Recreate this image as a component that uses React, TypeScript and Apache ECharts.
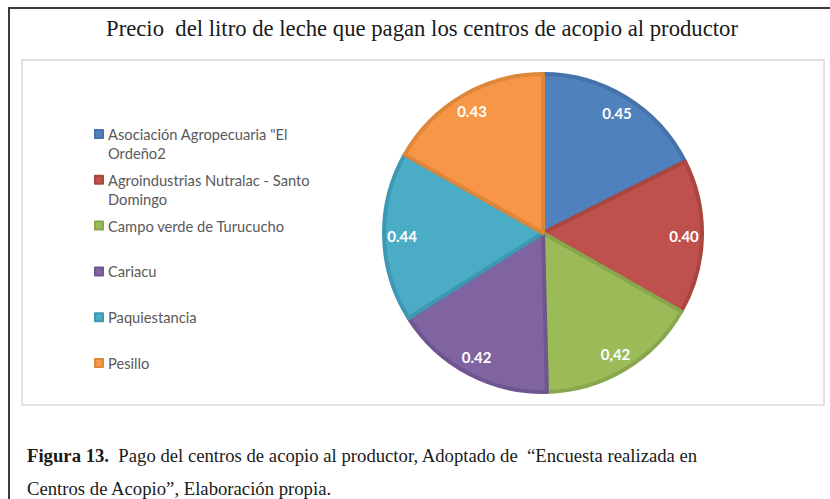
import React, { useEffect, useRef } from "react";
import * as echarts from "echarts";

const categories = [
  'Asociación Agropecuaria "El Ordeño2',
  "Agroindustrias Nutralac - Santo Domingo",
  "Campo verde de Turucucho",
  "Cariacu",
  "Paquiestancia",
  "Pesillo",
];
const legendLabels = [
  'Asociación Agropecuaria "El\nOrdeño2',
  "Agroindustrias Nutralac - Santo\nDomingo",
  "Campo verde de Turucucho",
  "Cariacu",
  "Paquiestancia",
  "Pesillo",
];
const values = [0.45, 0.4, 0.42, 0.42, 0.44, 0.43];
const valueLabels = ["0.45", "0.40", "0,42", "0.42", "0.44", "0.43"];
const fillColors = ["#4F81BD", "#C0504D", "#9BBB59", "#8064A2", "#4BACC6", "#F79646"];
const edgeColors = ["#4572AA", "#A9463F", "#88A64C", "#6F5690", "#3F98B2", "#DE8639"];

const titleText = "Precio  del litro de leche que pagan los centros de acopio al productor";
const captionLine1 = "Pago del centros de acopio al productor, Adoptado de  “Encuesta realizada en";
const captionLine2 = "Centros de Acopio”, Elaboración propia.";

export default function App() {
  const ref = useRef<HTMLDivElement>(null);
  useEffect(() => {
    document.body.style.margin = "0";
    const chart = echarts.init(ref.current!, null, { renderer: "svg" });
    const cx = 543;
    const cy = 233;
    const r = 159;
    const lh = 19;
    const legends = categories.map((name, i) => {
      const lines = legendLabels[i].split("\n").length;
      const text = lines > 1 ? "\n" + legendLabels[i] : legendLabels[i];
      const half = lines > 1 ? lh * 1.5 : lh / 2;
      return {
        data: [name],
        orient: "vertical",
        left: 94,
        top: 134 + i * 45.8 - half,
        padding: 0,
        itemWidth: 8,
        itemHeight: 8,
        icon: "rect",
        selectedMode: false,
        formatter: () => text,
        textStyle: {
          fontFamily: "Lato",
          fontSize: 14.7,
          color: "#595959",
          lineHeight: lh,
        },
      };
    });
    chart.setOption({
      animation: false,
      backgroundColor: "#ffffff",
      title: {
        text: titleText,
        left: 417,
        textAlign: "center",
        top: 11.5,
        textStyle: {
          fontFamily: "Liberation Serif",
          fontWeight: "normal",
          fontSize: 22.7,
          color: "#1a1a1a",
        },
      },
      legend: legends,
      graphic: [
        {
          type: "rect",
          shape: { x: 9, y: 8, width: 900, height: 700 },
          style: { fill: "none", stroke: "#3a3a3a", lineWidth: 2 },
          silent: true,
          z: -10,
        },
        {
          type: "rect",
          shape: { x: 22, y: 60, width: 802, height: 345 },
          style: { fill: "#ffffff", stroke: "#d9d9d9", lineWidth: 1.5 },
          silent: true,
          z: -9,
        },
        {
          type: "text",
          left: 27,
          top: 445.5,
          style: {
            text: "{b|Figura 13.}  " + captionLine1,
            fontFamily: "Liberation Serif",
            fontSize: 18.7,
            fill: "#1a1a1a",
            rich: {
              b: { fontFamily: "Liberation Serif", fontSize: 18.7, fontWeight: "bold", fill: "#1a1a1a" },
            },
          },
        },
        {
          type: "text",
          left: 27,
          top: 478.5,
          style: {
            text: captionLine2,
            fontFamily: "Liberation Serif",
            fontSize: 18.7,
            fill: "#1a1a1a",
          },
        },
      ],
      series: [
        {
          type: "pie",
          center: [cx, cy],
          radius: [0, r],
          startAngle: 90,
          clockwise: true,
          label: { show: false },
          labelLine: { show: false },
          emphasis: { disabled: true },
          data: categories.map((name, i) => ({
            name,
            value: values[i],
            itemStyle: { color: fillColors[i], borderColor: edgeColors[i], borderWidth: 4 },
          })),
        },
        {
          type: "pie",
          center: [cx, cy],
          radius: [117, r],
          startAngle: 90,
          clockwise: true,
          silent: true,
          legendHoverLink: false,
          itemStyle: { color: "rgba(0,0,0,0)" },
          labelLine: { show: false },
          emphasis: { disabled: true },
          label: {
            show: true,
            position: "inside",
            formatter: (p: any) => valueLabels[p.dataIndex],
            fontFamily: "Lato",
            fontWeight: "bold",
            fontSize: 15,
            color: "#ffffff",
          },
          data: categories.map((name, i) => ({ name: name + " ", value: values[i] })),
        },
      ],
    });
    return () => chart.dispose();
  }, []);
  return <div ref={ref} style={{ width: 830, height: 499 }} />;
}
